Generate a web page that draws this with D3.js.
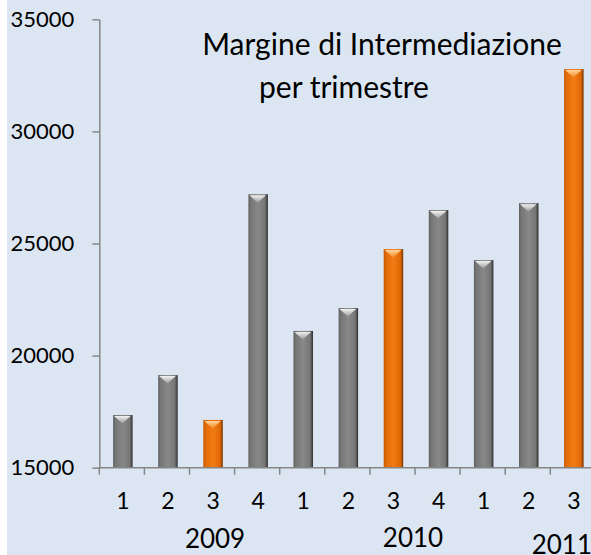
<!DOCTYPE html>
<html>
<head>
<meta charset="utf-8">
<script src="https://cdn.jsdelivr.net/npm/d3@7"></script>
<style>
  body { margin: 0; background: #fff; }
  text { font-family: Lato, "Open Sans", sans-serif; fill: #000; }
</style>
</head>
<body>
<div id="chart"></div>
<script>
// quarterly values
var quarters = ["1", "2", "3", "4", "1", "2", "3", "4", "1", "2", "3"];
var years = ["2009", "2010", "2011"];
var values = [17350, 19130, 17130, 27200, 21100, 22120, 24750, 26490, 24260, 26800, 32780];
var yTicks = [15000, 20000, 25000, 30000, 35000];
var titleLines = ["Margine di Intermediazione", "per trimestre"];

var W = 591, H = 555;
var plotLeft = 99.3, plotTop = 19.3, plotBottom = 467.7, step = 45.1;

var svg = d3.select("#chart").append("svg")
  .attr("width", W)
  .attr("height", H);

// background panel
svg.append("rect")
  .attr("x", 7).attr("y", 0)
  .attr("width", W - 7).attr("height", H)
  .attr("fill", "#dce6f2");

var defs = svg.append("defs");
function hGrad(id, stops) {
  var g = defs.append("linearGradient").attr("id", id)
    .attr("x1", "0%").attr("x2", "100%").attr("y1", "0%").attr("y2", "0%");
  stops.forEach(function (s) {
    g.append("stop").attr("offset", s[0]).attr("stop-color", s[1]);
  });
}
function vGrad(id, stops) {
  var g = defs.append("linearGradient").attr("id", id)
    .attr("x1", "0%").attr("x2", "0%").attr("y1", "0%").attr("y2", "100%");
  stops.forEach(function (s) {
    g.append("stop").attr("offset", s[0]).attr("stop-color", s[1]);
  });
}
hGrad("grayBar", [["0%", "#5e5e5e"], ["12%", "#767676"], ["50%", "#888888"], ["85%", "#767676"], ["100%", "#2e2e2e"]]);
hGrad("orangeBar", [["0%", "#c45804"], ["12%", "#e26a08"], ["50%", "#f27c14"], ["85%", "#e06806"], ["100%", "#7a3300"]]);
vGrad("grayTop", [["0%", "#f2f2f2"], ["100%", "#9a9a9a"]]);
vGrad("orangeTop", [["0%", "#ffd29a"], ["100%", "#f28a22"]]);

var x = d3.scaleBand()
  .domain(d3.range(values.length))
  .range([plotLeft, plotLeft + step * values.length])
  .paddingInner(0).paddingOuter(0);

var y = d3.scaleLinear()
  .domain([15000, 35000])
  .range([plotBottom, plotTop]);

// y axis
var yAxis = svg.append("g")
  .attr("transform", "translate(" + plotLeft + ",0)")
  .call(d3.axisLeft(y).tickValues(yTicks).tickFormat(d3.format("d"))
    .tickSize(7).tickSizeOuter(0).tickPadding(18));
yAxis.select(".domain").attr("stroke", "#868686").attr("stroke-width", 1.5);
yAxis.selectAll(".tick line").attr("stroke", "#868686").attr("stroke-width", 1.5);
yAxis.selectAll(".tick text")
  .style("font-family", "Lato, 'Open Sans', sans-serif")
  .style("font-size", "22px")
  .attr("fill", "#000");

// bars
var barW = 19.5;
function barX(i) { return x(i) + x.bandwidth() / 2 + 1 - barW / 2; }
var bars = svg.append("g");
bars.selectAll("rect")
  .data(values)
  .join("rect")
  .attr("x", function (d, i) { return barX(i); })
  .attr("y", function (d) { return y(d); })
  .attr("width", barW)
  .attr("height", function (d) { return y(15000) - y(d); })
  .attr("fill", function (d, i) { return quarters[i] === "3" ? "url(#orangeBar)" : "url(#grayBar)"; });

// bevel on top of every bar
bars.selectAll("path")
  .data(values)
  .join("path")
  .attr("d", function (d, i) {
    var x0 = barX(i) + 1, x1 = x0 + barW - 3, t = y(d) + 1;
    return "M" + x0 + "," + t + "L" + x1 + "," + t + "L" + (x0 + x1) / 2 + "," + (t + 7.5) + "Z";
  })
  .attr("fill", function (d, i) { return quarters[i] === "3" ? "url(#orangeTop)" : "url(#grayTop)"; });

// x axis line with ticks at category boundaries
var xAxis = svg.append("g");
xAxis.append("line")
  .attr("x1", plotLeft).attr("x2", W)
  .attr("y1", plotBottom).attr("y2", plotBottom)
  .attr("stroke", "#868686").attr("stroke-width", 1.5);
xAxis.selectAll(".xt")
  .data(d3.range(values.length))
  .join("line")
  .attr("class", "xt")
  .attr("x1", function (i) { return x(i); })
  .attr("x2", function (i) { return x(i); })
  .attr("y1", plotBottom).attr("y2", plotBottom + 7)
  .attr("stroke", "#868686").attr("stroke-width", 1.5);

// quarter labels
svg.append("g").selectAll("text")
  .data(quarters)
  .join("text")
  .attr("x", function (d, i) { return x(i) + x.bandwidth() / 2 + 1; })
  .attr("y", 509)
  .attr("text-anchor", "middle")
  .style("font-size", "23px")
  .text(function (d) { return d; });

// year labels, placed roughly where the original puts them
var yearSpot = { "2009": [2, 3, 548], "2010": [6.5, -2, 547], "2011": [10, -11, 554] };
svg.append("g").selectAll("text")
  .data(years)
  .join("text")
  .attr("x", function (d) { return x(0) + (yearSpot[d][0] + 0.5) * step + yearSpot[d][1]; })
  .attr("y", function (d) { return yearSpot[d][2]; })
  .attr("text-anchor", "middle")
  .style("font-size", "26px")
  .text(function (d) { return d; });

// title
svg.append("text")
  .attr("x", 382).attr("y", 55)
  .attr("text-anchor", "middle")
  .style("font-size", "30px")
  .text(titleLines[0]);
svg.append("text")
  .attr("x", 344).attr("y", 98)
  .attr("text-anchor", "middle")
  .style("font-size", "30px")
  .text(titleLines[1]);
</script>
</body>
</html>
